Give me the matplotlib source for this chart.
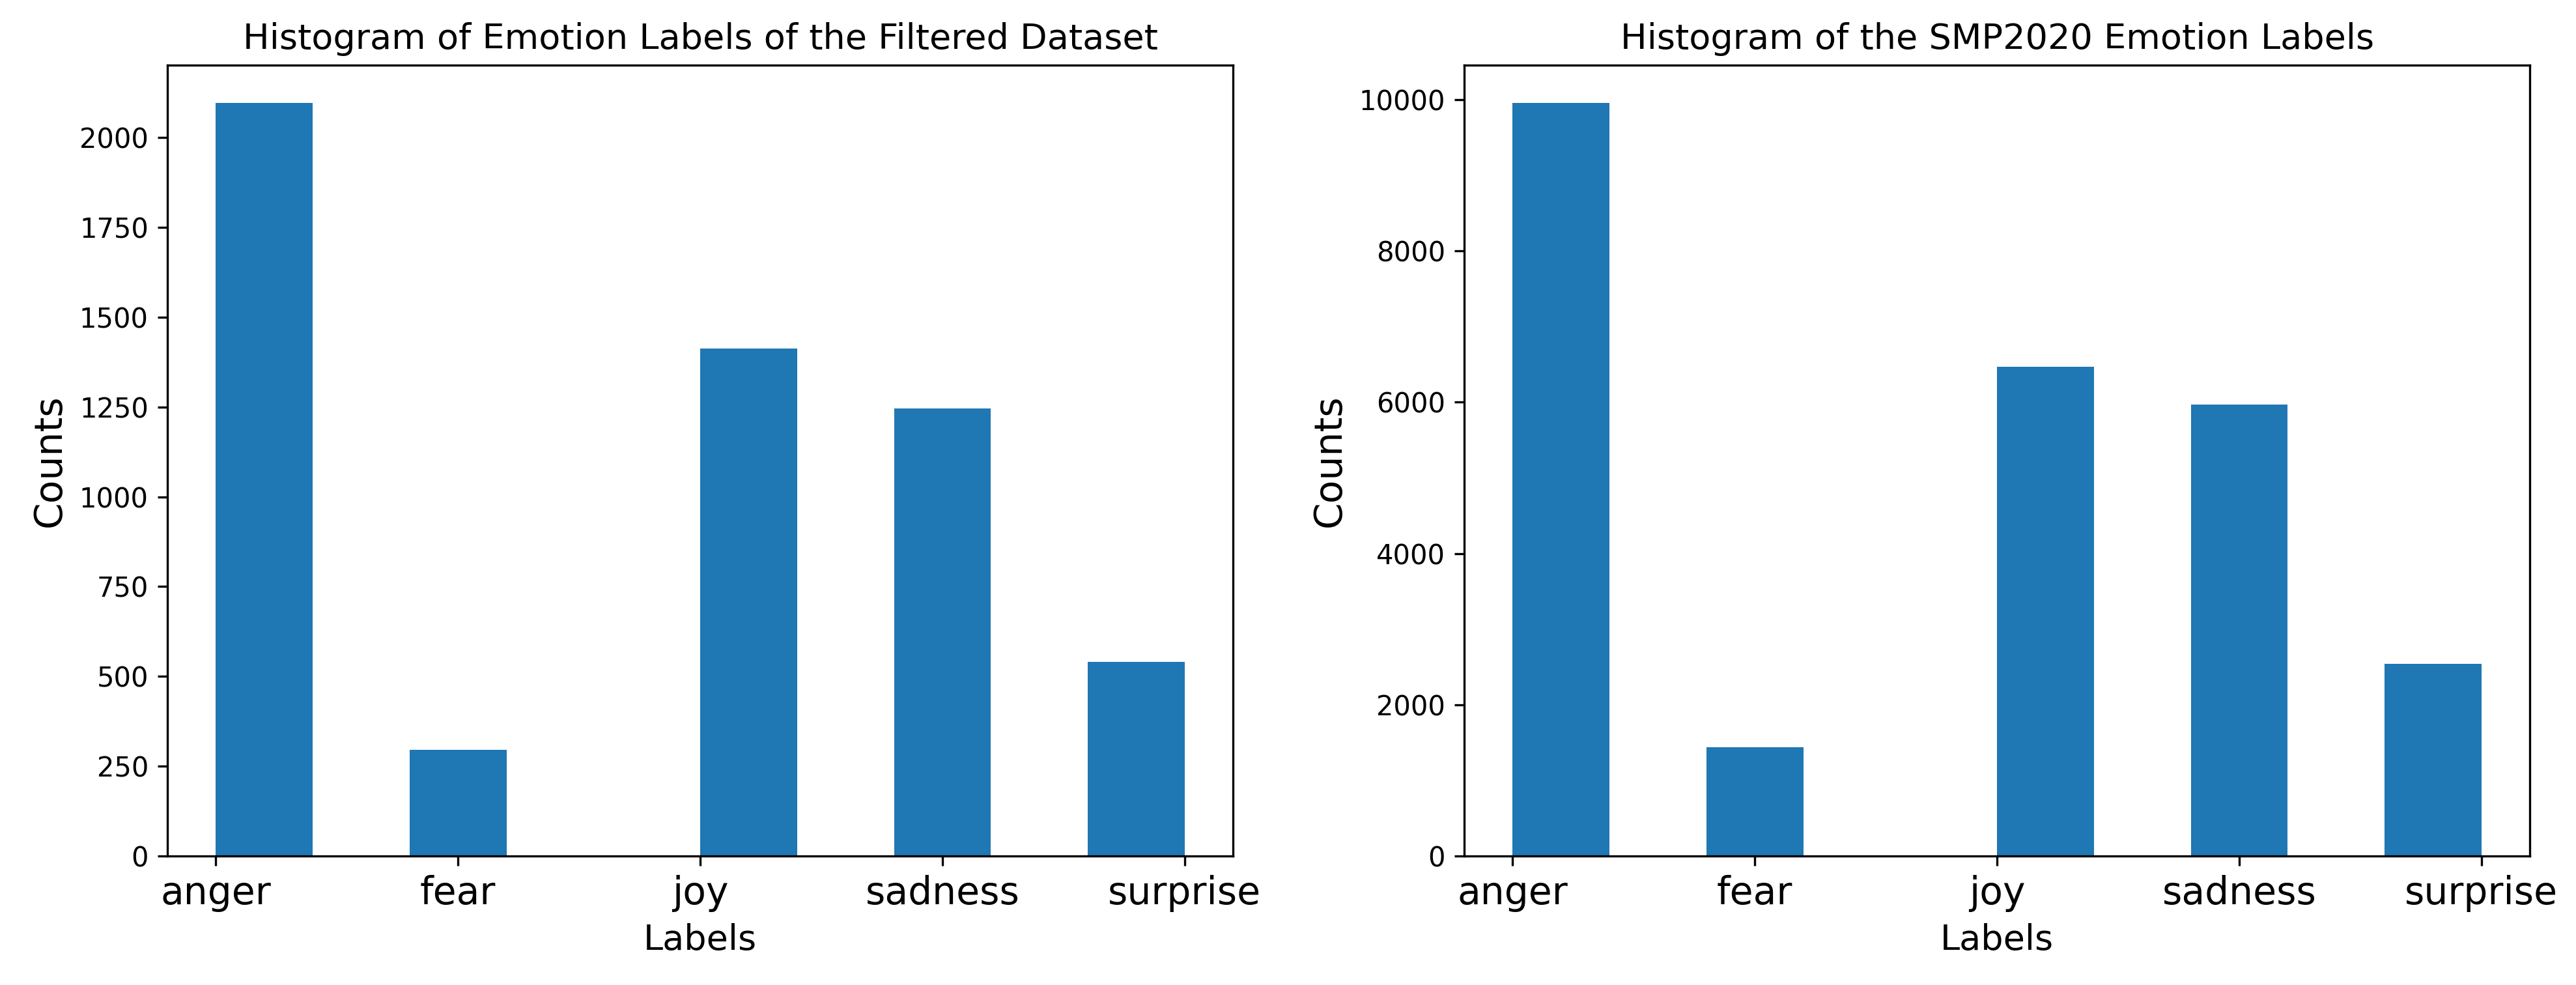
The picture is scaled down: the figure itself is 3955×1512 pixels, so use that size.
import matplotlib
matplotlib.use("Agg")
import matplotlib.pyplot as plt

# etiquetas y conteos
etiquetas = ["anger", "fear", "joy", "sadness", "surprise"]
conteos_filtrado = [2097, 295, 1412, 1245, 540]
conteos_smp2020 = [9960, 1435, 6470, 5965, 2540]

# ----------------------------------------------------------------------------- #
#                        HISTOGRAMAS DE EMOCIONES
# ----------------------------------------------------------------------------- #

def histograma(ax, conteos, titulo):
    posiciones = list(range(len(etiquetas)))
    # mismo binning que plt.hist sobre categorias (10 bins por defecto)
    ax.hist(posiciones, bins=10, weights=conteos, color="#1f77b4")
    ax.set_xticks(posiciones)
    ax.set_xticklabels(etiquetas, fontsize=14)
    ax.tick_params(axis="y", labelsize=10)
    ax.set_title(titulo, fontsize=13)
    ax.set_xlabel("Labels", fontsize=13)
    ax.set_ylabel("Counts", fontsize=14)


fig = plt.figure(figsize=(3955 / 300, 1512 / 300), dpi=300)
ax1 = fig.add_axes([0.065, 0.131, 0.4137, 0.803])
ax2 = fig.add_axes([0.5684, 0.131, 0.4137, 0.803])

histograma(ax1, conteos_filtrado, "Histogram of Emotion Labels of the Filtered Dataset")
histograma(ax2, conteos_smp2020, "Histogram of the SMP2020 Emotion Labels")

fig.savefig("out.png", dpi=300)
